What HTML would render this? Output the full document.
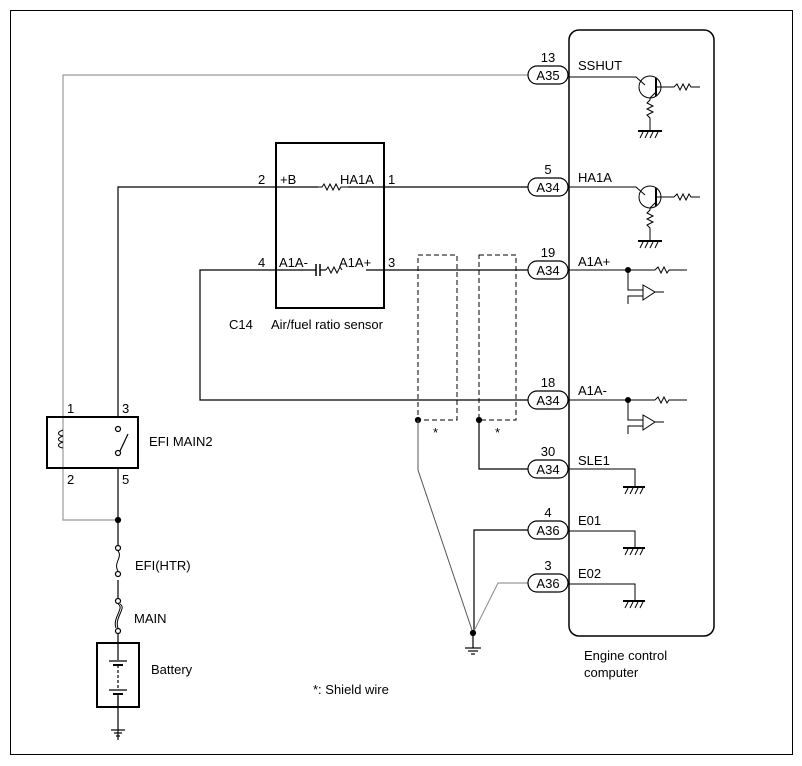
<!DOCTYPE html><html><head><style>body{margin:0;background:#fff}svg{display:block}text{font-family:"Liberation Sans",sans-serif;font-size:13px;fill:#000}</style></head><body>
<svg width="802" height="766" viewBox="0 0 802 766" xmlns="http://www.w3.org/2000/svg" fill="none" stroke="#000" stroke-width="1.2">
<rect x="10.5" y="10.5" width="782" height="744" stroke-width="1"/>
<rect x="569" y="30" width="145" height="606" rx="10" stroke-width="1.5"/>
<!-- wires -->
<polyline points="528,75 63,75 63,520 118,520" stroke="#999"/>
<polyline points="528,187 118,187 118,417"/>
<polyline points="528,270 200,270 200,400 528,400"/>
<line x1="118" y1="468" x2="118" y2="548"/>
<circle cx="118" cy="520" r="2.5" fill="#000"/>
<!-- sensor -->
<rect x="276" y="143" width="108" height="165" stroke-width="2"/>
<rect x="296" y="258" width="70" height="14" fill="#fff" stroke="none"/>
<line x1="296" y1="270" x2="316" y2="270"/>
<line x1="316" y1="264" x2="316" y2="276" stroke-width="1.5"/><line x1="320" y1="264" x2="320" y2="276" stroke-width="1.5"/>
<line x1="320" y1="270" x2="326" y2="270"/>
<polyline points="326,270 328,267 331,273 334,267 337,273 340,267 342,270" stroke-width="1"/>
<rect x="318" y="180" width="30" height="12" fill="#fff" stroke="none"/>
<polyline points="318,187 322,187 324,184 327,190 330,184 333,190 336,184 339,190 341,187 348,187" stroke-width="1"/>
<!-- relay -->
<rect x="47" y="417" width="91" height="51" stroke-width="2"/>
<path d="M63,430 c-6,2 -6,5 0,6 c-6,2 -6,5 0,6 c-6,2 -6,5 0,6" stroke-width="1"/>
<circle cx="118" cy="429" r="2.5" fill="#fff"/><circle cx="118" cy="453" r="2.5" fill="#fff"/>
<line x1="120" y1="451" x2="128" y2="434"/>
<!-- fuses -->
<line x1="118" y1="548" x2="118" y2="740"/>
<rect x="110" y="548" width="16" height="32" fill="#fff" stroke="none"/>
<circle cx="118" cy="548" r="2.5" fill="#fff"/><circle cx="118" cy="574" r="2.5" fill="#fff"/>
<path d="M118,551 c5,6 -5,12 0,20" stroke-width="1"/>
<rect x="110" y="601" width="16" height="32" fill="#fff" stroke="none"/>
<circle cx="118" cy="601" r="2.5" fill="#fff"/><circle cx="118" cy="631" r="2.5" fill="#fff"/>
<path d="M118,604 c7,4 -6,14 -2,24 M120,604 c7,4 -6,14 -2,24" stroke-width="1"/>
<!-- battery -->
<rect x="97" y="643" width="42" height="64" stroke-width="2" fill="#fff"/>
<line x1="118" y1="643" x2="118" y2="707"/>
<rect x="110" y="660" width="16" height="36" fill="#fff" stroke="none"/>
<line x1="109" y1="661" x2="127" y2="661"/><line x1="113" y1="665" x2="123" y2="665" stroke-width="2"/>
<line x1="118" y1="665" x2="118" y2="690" stroke-dasharray="3,2"/>
<line x1="109" y1="690" x2="127" y2="690"/><line x1="113" y1="694" x2="123" y2="694" stroke-width="2"/>
<line x1="118" y1="694" x2="118" y2="707"/>
<line x1="111" y1="730" x2="125" y2="730"/><line x1="114" y1="733" x2="122" y2="733"/><line x1="116" y1="736" x2="120" y2="736"/>
<!-- shields -->
<rect x="418" y="255" width="39" height="165" stroke-dasharray="5,3" stroke-width="1"/>
<rect x="479" y="255" width="37" height="165" stroke-dasharray="5,3" stroke-width="1"/>
<circle cx="418" cy="420" r="2.5" fill="#000"/><circle cx="479" cy="420" r="2.5" fill="#000"/>
<polyline points="418,420 418,470 473,633" stroke="#555" stroke-width="1"/>
<polyline points="479,420 479,469 528,469"/>
<polyline points="528,530 474,530 474,633"/>
<polyline points="528,583 498,583 473,633" stroke="#999"/>
<circle cx="473" cy="633" r="2.5" fill="#000"/>
<line x1="473" y1="633" x2="473" y2="648"/>
<line x1="465" y1="648" x2="481" y2="648"/><line x1="468" y1="651" x2="478" y2="651"/><line x1="471" y1="654" x2="475" y2="654"/>
<!-- pills -->
<g fill="#fff">
<rect x="528" y="66" width="40" height="18" rx="9"/><rect x="528" y="178" width="40" height="18" rx="9"/>
<rect x="528" y="261" width="40" height="18" rx="9"/><rect x="528" y="391" width="40" height="18" rx="9"/>
<rect x="528" y="460" width="40" height="18" rx="9"/><rect x="528" y="521" width="40" height="18" rx="9"/>
<rect x="528" y="574" width="40" height="18" rx="9"/></g>
<!-- ECU internals -->
<g stroke-width="1">
<polyline points="569,77 636,77 645,85"/>
<circle cx="650" cy="87" r="11"/><line x1="656" y1="78" x2="656" y2="96" stroke-width="2"/>
<line x1="656" y1="87" x2="674" y2="87"/><polyline points="674,87 677,84 680,90 683,84 686,90 689,84 691,87 700,87"/>
<polyline points="656,92 650,98 650,100 647,103 653,106 647,109 653,112 647,115 650,118 650,130"/>
<line x1="638" y1="131" x2="662" y2="131" stroke-width="2"/><path d="M640,138 l3,-6 M645,138 l3,-6 M650,138 l3,-6 M655,138 l3,-6"/>
<polyline points="569,187 636,187 645,195"/>
<circle cx="650" cy="197" r="11"/><line x1="656" y1="188" x2="656" y2="206" stroke-width="2"/>
<line x1="656" y1="197" x2="674" y2="197"/><polyline points="674,197 677,194 680,200 683,194 686,200 689,194 691,197 700,197"/>
<polyline points="656,202 650,208 650,210 647,213 653,216 647,219 653,222 647,225 650,228 650,240"/>
<line x1="638" y1="241" x2="662" y2="241" stroke-width="2"/><path d="M640,248 l3,-6 M645,248 l3,-6 M650,248 l3,-6 M655,248 l3,-6"/>
<line x1="569" y1="270" x2="655" y2="270"/><polyline points="655,270 658,267 661,273 664,267 667,273 669,270 687,270"/>
<circle cx="628" cy="270" r="2.5" fill="#000"/>
<polyline points="628,270 628,290 643,290"/><polyline points="628,304 628,296 643,296"/>
<polygon points="643,285 643,300 655,292" fill="#fff"/><line x1="655" y1="292" x2="664" y2="292"/>
<line x1="569" y1="400" x2="655" y2="400"/><polyline points="655,400 658,397 661,403 664,397 667,403 669,400 687,400"/>
<circle cx="628" cy="400" r="2.5" fill="#000"/>
<polyline points="628,400 628,420 643,420"/><polyline points="628,434 628,426 643,426"/>
<polygon points="643,415 643,430 655,422" fill="#fff"/><line x1="655" y1="422" x2="664" y2="422"/>
<polyline points="569,469 635,469 635,487"/>
<line x1="623" y1="487" x2="645" y2="487" stroke-width="2"/><path d="M625,494 l3,-6 M630,494 l3,-6 M635,494 l3,-6 M640,494 l3,-6"/>
<polyline points="569,531 635,531 635,548"/>
<line x1="623" y1="548" x2="645" y2="548" stroke-width="2"/><path d="M625,555 l3,-6 M630,555 l3,-6 M635,555 l3,-6 M640,555 l3,-6"/>
<polyline points="569,584 635,584 635,601"/>
<line x1="623" y1="601" x2="645" y2="601" stroke-width="2"/><path d="M625,608 l3,-6 M630,608 l3,-6 M635,608 l3,-6 M640,608 l3,-6"/>
</g>
<g stroke="none" fill="#000">
<text x="548" y="80" text-anchor="middle">A35</text><text x="548" y="192" text-anchor="middle">A34</text>
<text x="548" y="275" text-anchor="middle">A34</text><text x="548" y="405" text-anchor="middle">A34</text>
<text x="548" y="474" text-anchor="middle">A34</text><text x="548" y="535" text-anchor="middle">A36</text>
<text x="548" y="588" text-anchor="middle">A36</text>
<text x="548" y="62" text-anchor="middle">13</text><text x="548" y="174" text-anchor="middle">5</text>
<text x="548" y="257" text-anchor="middle">19</text><text x="548" y="387" text-anchor="middle">18</text>
<text x="548" y="456" text-anchor="middle">30</text><text x="548" y="517" text-anchor="middle">4</text>
<text x="548" y="570" text-anchor="middle">3</text>
<text x="578" y="70">SSHUT</text><text x="578" y="182">HA1A</text><text x="578" y="266">A1A+</text>
<text x="578" y="395">A1A-</text><text x="578" y="465">SLE1</text><text x="578" y="525">E01</text><text x="578" y="578">E02</text>
<text x="258" y="184">2</text><text x="280" y="184">+B</text><text x="340" y="184">HA1A</text><text x="388" y="184">1</text>
<text x="258" y="267">4</text><text x="279" y="267">A1A-</text><text x="339" y="267">A1A+</text><text x="388" y="267">3</text>
<text x="229" y="329">C14</text><text x="271" y="329">Air/fuel ratio sensor</text>
<text x="67" y="413">1</text><text x="122" y="413">3</text><text x="67" y="484">2</text><text x="122" y="484">5</text>
<text x="149" y="446">EFI MAIN2</text><text x="135" y="570">EFI(HTR)</text><text x="134" y="623">MAIN</text>
<text x="151" y="674">Battery</text><text x="313" y="694">*: Shield wire</text>
<text x="433" y="437" font-size="10">*</text><text x="495" y="437" font-size="10">*</text>
<text x="584" y="660">Engine control</text><text x="584" y="677">computer</text>
</g>
</svg></body></html>
